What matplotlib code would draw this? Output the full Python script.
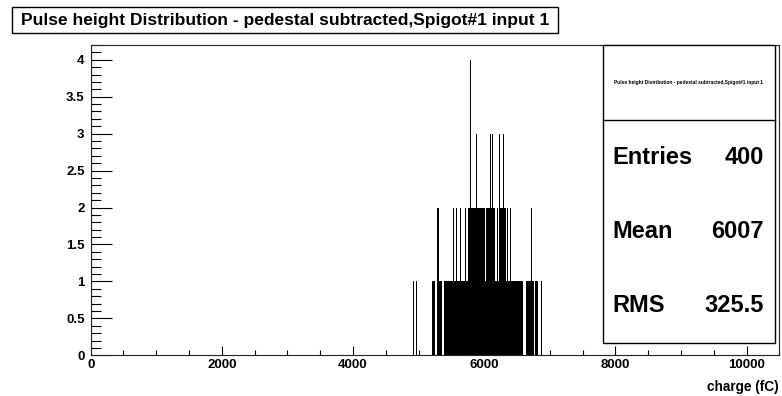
import matplotlib
matplotlib.use("Agg")
import matplotlib.pyplot as plt
from matplotlib.patches import Rectangle
from matplotlib.ticker import MultipleLocator

# ---- data ----
title = "Pulse height Distribution - pedestal subtracted,Spigot#1 input 1"
xlabel = "charge (fC)"
stat_names = ["Entries", "Mean", "RMS"]
stat_values = ["400", "6007", "325.5"]

# runs of bins: start (fC), end (fC), count
seg_start = [4911, 4962, 5206, 5278, 5382, 6641, 6768, 6870, 7014,
             5285, 5522, 5575, 5634, 5712, 5751, 6031, 6193, 6237, 6345, 6390, 6525, 6718,
             5879, 5915, 5944, 6090, 6125, 6222, 6290,
             5780]
seg_end = [4936, 4972, 5256, 5359, 6591, 6759, 6820, 6884, 7024,
           5310, 5535, 5588, 5647, 5725, 6005, 6168, 6216, 6336, 6358, 6402, 6538, 6731,
           5892, 5928, 5957, 6103, 6138, 6240, 6308,
           5800]
seg_count = [1, 1, 1, 1, 1, 1, 1, 1, 1,
             2, 2, 2, 2, 2, 2, 2, 2, 2, 2, 2, 2, 2,
             3, 3, 3, 3, 3, 3, 3,
             4]

x_range = (0, 10500)
y_range = (0, 4.2)

W, H = 782, 396
fig = plt.figure(figsize=(W / 100, H / 100), dpi=100)
fig.patch.set_facecolor("white")
FONT = "Liberation Sans"

def fx(px):
    return px / W

def fy(py):
    return 1 - py / H

ax_l, ax_r, ax_t, ax_b = 90.7, 779.3, 45.0, 355.3
ax = fig.add_axes([fx(ax_l), fy(ax_b), fx(ax_r - ax_l), (ax_b - ax_t) / H])

widths = [e - s for s, e in zip(seg_start, seg_end)]
ax.bar(seg_start, seg_count, width=widths, align="edge", color="black",
       linewidth=0)

ax.set_xlim(*x_range)
ax.set_ylim(*y_range)
ax.xaxis.set_major_locator(MultipleLocator(2000))
ax.xaxis.set_minor_locator(MultipleLocator(500))
ax.yaxis.set_major_locator(MultipleLocator(0.5))
ax.yaxis.set_minor_locator(MultipleLocator(0.1))
ax.yaxis.set_major_formatter(plt.FuncFormatter(lambda v, p: f"{v:g}"))

ax.tick_params(axis="x", which="major", direction="in", length=6.7, width=0.8,
               pad=2.5, labelsize=9.5, top=False)
ax.tick_params(axis="x", which="minor", direction="in", length=3.3, width=0.8, top=False)
ax.tick_params(axis="y", which="major", direction="in", length=14.8, width=0.8,
               pad=4.4, labelsize=9.5, right=False)
ax.tick_params(axis="y", which="minor", direction="in", length=7.4, width=0.8, right=False)
for lab in ax.get_xticklabels() + ax.get_yticklabels():
    lab.set_fontfamily(FONT)
    lab.set_fontweight("bold")
for sp in ax.spines.values():
    sp.set_linewidth(0.8)
    sp.set_color("#222222")

fig.text(fx(779), fy(380), xlabel, ha="right", va="top", fontsize=9.8,
         fontweight="bold", family=FONT)

# title box
fig.patches.append(Rectangle((fx(12.3), fy(33.3)), fx(558 - 12.3), (33.3 - 7.3) / H,
                             transform=fig.transFigure, facecolor="white",
                             edgecolor="black", linewidth=1))
fig.text(fx(21), fy(20.5), title, ha="left", va="center", fontsize=12.5,
         fontweight="bold", family=FONT)

# stats box
sb_l, sb_r, sb_t, sb_b, sb_sep = 602.7, 775.0, 45.0, 343.0, 120.0
fig.patches.append(Rectangle((fx(sb_l), fy(sb_b)), fx(sb_r - sb_l), (sb_b - sb_t) / H,
                             transform=fig.transFigure, facecolor="white",
                             edgecolor="black", linewidth=1, zorder=5))
fig.lines.append(plt.Line2D([fx(sb_l), fx(sb_r)], [fy(sb_sep), fy(sb_sep)],
                            transform=fig.transFigure, color="black", linewidth=1, zorder=6))
fig.text(fx((sb_l + sb_r) / 2), fy(82.7), title, ha="center", va="center",
         fontsize=3.5, fontweight="bold", family=FONT, zorder=7)
row_h = (sb_b - sb_sep) / len(stat_names)
for i, (n, v) in enumerate(zip(stat_names, stat_values)):
    yc = sb_sep + row_h * (i + 0.5)
    fig.text(fx(612.5), fy(yc), n, ha="left", va="center", fontsize=17,
             fontweight="bold", family=FONT, zorder=7)
    fig.text(fx(764), fy(yc), v, ha="right", va="center", fontsize=17,
             fontweight="bold", family=FONT, zorder=7)

fig.savefig("out.png", dpi=100, facecolor="white")
